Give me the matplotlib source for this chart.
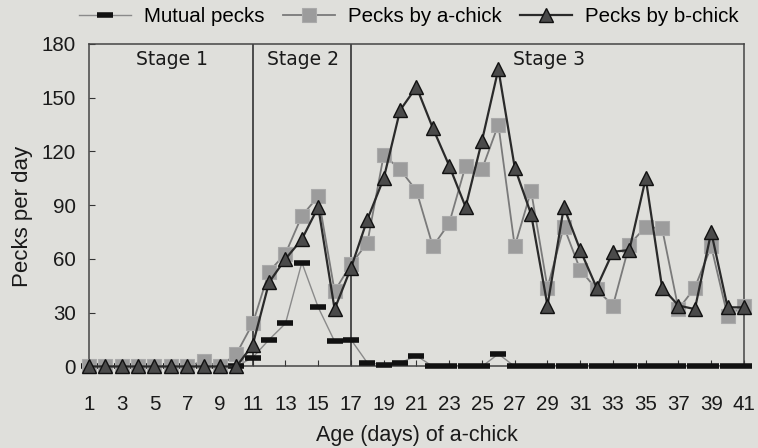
import matplotlib
matplotlib.use("Agg")
import matplotlib.pyplot as plt

days = list(range(1, 42))
mutual = [0, 0, 0, 0, 0, 0, 0, 0, 0, 0,
          5, 15, 24, 58, 33, 14, 15, 2, 1, 2,
          6, 0, 0, 0, 0, 7, 0, 0, 0, 0,
          0, 0, 0, 0, 0, 0, 0, 0, 0, 0, 0]
a_chick = [0, 0, 0, 0, 0, 0, 0, 3, 0, 7,
           24, 53, 63, 84, 95, 42, 57, 69, 118, 110,
           98, 67, 80, 112, 110, 135, 67, 98, 44, 78,
           54, 43, 34, 68, 78, 77, 32, 44, 67, 28, 34]
b_chick = [0, 0, 0, 0, 0, 0, 0, 0, 0, 0,
           12, 47, 60, 71, 89, 32, 55, 82, 105, 143,
           156, 133, 112, 89, 126, 166, 111, 85, 34, 89,
           65, 44, 64, 65, 105, 44, 34, 32, 75, 33, 33]
stage_bounds = [11, 17]
stage_labels = ["Stage 1", "Stage 2", "Stage 3"]
stage_label_x = [6.05, 14.05, 29.1]
x_ticks = list(range(1, 42, 2))
y_ticks = [0, 30, 60, 90, 120, 150, 180]

plt.rcParams['font.family'] = ['Liberation Sans', 'DejaVu Sans']

bg = "#dfdfdb"
fig = plt.figure(figsize=(7.58, 4.48), dpi=100, facecolor=bg)
ax = fig.add_axes([0.1174, 0.182, 0.8641, 0.7199])
ax.set_facecolor(bg)

ax.plot(days, mutual, color="#8a8a8a", lw=1.0, marker="_", ms=12, mew=4,
        mec="#111111", clip_on=False, zorder=3, label="Mutual pecks")
ax.plot(days, a_chick, color="#7a7a7a", lw=1.3, marker="s", ms=9.5,
        mfc="#9c9c9c", mec="#aaaaaa", mew=0.8, clip_on=False, zorder=4,
        label="Pecks by a-chick")
ax.plot(days, b_chick, color="#2a2a2a", lw=1.6, marker="^", ms=9.5,
        mfc="#4a4a4a", mec="#111111", mew=1.0, clip_on=False, zorder=5,
        label="Pecks by b-chick")

for xb in stage_bounds:
    ax.axvline(xb, color="#333333", lw=1.2, zorder=2)
for xl, s in zip(stage_label_x, stage_labels):
    ax.text(xl, 176.6, s, ha="center", va="top", fontsize=13.5,
            family=["DejaVu Sans"], color="#1a1a1a")

ax.set_xlim(1, 41)
ax.set_ylim(0, 180)
ax.set_xticks(x_ticks)
ax.set_yticks(y_ticks)
ax.tick_params(axis="both", direction="in", length=4, width=0.8, colors="#333333",
               labelcolor="#1a1a1a", labelsize=14.8)
ax.tick_params(axis="x", pad=20.5)
ax.tick_params(axis="y", pad=9.4)
for sp in ax.spines.values():
    sp.set_color("#444444")
    sp.set_linewidth(1.1)

ax.set_ylabel("Pecks per day", fontsize=16, color="#1a1a1a")
ax.yaxis.set_label_coords(-0.0855, 0.465)
ax.set_xlabel("Age (days) of a-chick", fontsize=15.5, color="#1a1a1a", labelpad=8)

leg = ax.legend(loc="center", bbox_to_anchor=(0.4885, 1.085), ncol=3,
                frameon=False, fontsize=14.8, handlelength=2.5, columnspacing=0.9,
                handletextpad=0.65, borderpad=0, borderaxespad=0)

fig.savefig("out.png", dpi=100, facecolor=bg)
